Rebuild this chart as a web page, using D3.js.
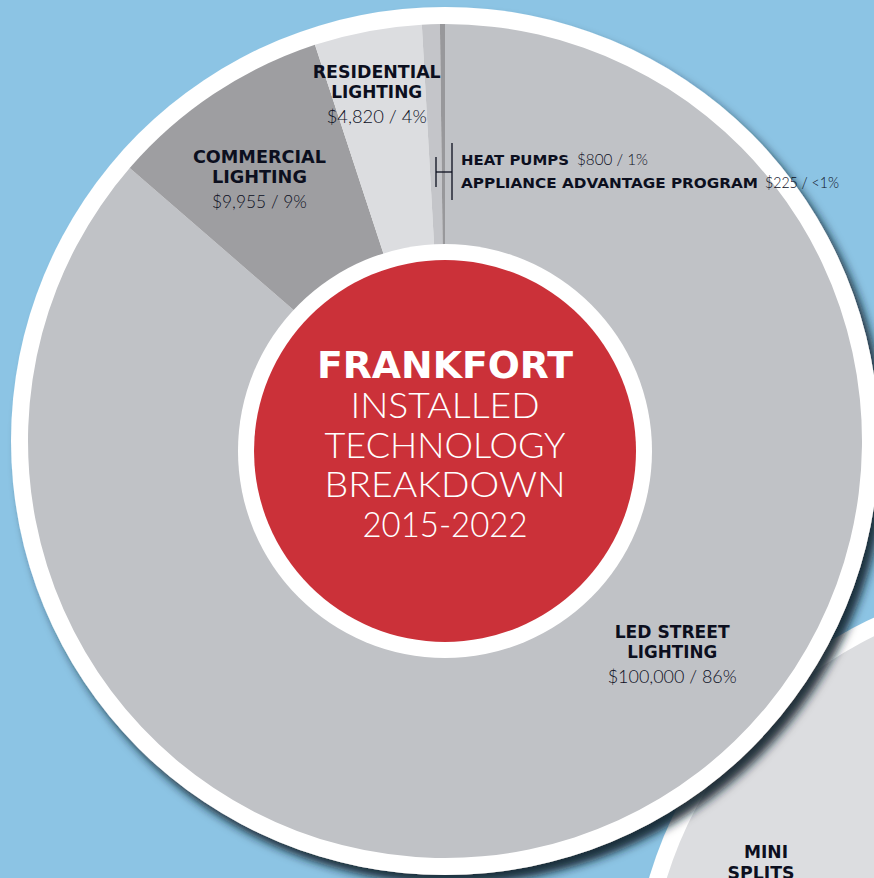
<!DOCTYPE html>
<head>
    <meta charset="utf-8">
    <title>Frankfort - Installed Technology Breakdown</title>
    <style>
        html, body { margin: 0; padding: 0; background: #8cc4e4; }
        svg { display: block; }
        .lbl { font-family: "DejaVu Sans", sans-serif; font-weight: bold; fill: #0c0f1e; }
        .val { font-family: Lato, "Open Sans", sans-serif; font-weight: 300; fill: #0c0f1e; }
    </style>
</head>
<body>
<svg width="874" height="878"></svg>

<script src="https://d3js.org/d3.v7.min.js"></script>
<script>

// slices, clockwise from 12 o'clock
var categories = ["LED STREET LIGHTING", "COMMERCIAL LIGHTING", "RESIDENTIAL LIGHTING", "HEAT PUMPS", "APPLIANCE ADVANTAGE PROGRAM"];
var amounts = [100000, 9955, 4820, 800, 225];
var shares = ["86%", "9%", "4%", "1%", "<1%"];
var sliceColors = ["#c0c2c6", "#9e9ea1", "#dcdde0", "#c4c5c9", "#98989b"];
var titleLines = ["FRANKFORT", "INSTALLED", "TECHNOLOGY", "BREAKDOWN", "2015-2022"];
var otherChart = ["MINI", "SPLITS"];

var svg = d3.select("svg"),
    width = +svg.attr("width"),
    height = +svg.attr("height");

var cx = 445, cy = 441, radius = 417, ring = 17;

var defs = svg.append("defs");
defs.append("filter").attr("id", "shadow")
    .attr("x", "-20%").attr("y", "-20%").attr("width", "140%").attr("height", "140%")
  .append("feDropShadow")
    .attr("dx", 7).attr("dy", 9).attr("stdDeviation", 5)
    .attr("flood-color", "#0b1b29").attr("flood-opacity", 0.9);

svg.append("rect").attr("width", width).attr("height", height).attr("fill", "#8cc4e4");

// neighbouring chart, mostly off the page
var mini = svg.append("g").attr("transform", "translate(1049,996)");
mini.append("circle").attr("r", 400 + ring).attr("fill", "#fff").attr("filter", "url(#shadow)");
mini.append("path")
    .attr("d", d3.arc().innerRadius(0).outerRadius(400)({startAngle: 0, endAngle: 2 * Math.PI}))
    .attr("fill", "#dcdde0");

// main chart
var g = svg.append("g").attr("transform", "translate(" + cx + "," + cy + ")");

g.append("circle").attr("r", radius + ring).attr("fill", "#fff").attr("filter", "url(#shadow)");

var pie = d3.pie().sort(null).value(function(d) { return d; });
var arcs = pie(amounts);
var arc = d3.arc().innerRadius(0).outerRadius(radius);

g.selectAll("path.slice")
    .data(arcs)
  .enter().append("path")
    .attr("class", "slice")
    .attr("d", arc)
    .attr("fill", function(d, i) { return sliceColors[i]; });

// hole and title disc (sits a little low)
var hole = svg.append("g").attr("transform", "translate(" + cx + "," + (cy + 10) + ")");
hole.append("circle").attr("r", 207).attr("fill", "#fff");
hole.append("circle").attr("r", 191).attr("fill", "#cb3139");

var title = svg.append("text").attr("text-anchor", "middle").attr("fill", "#fff");
var titleWidths = [256, 189, 241, 241, 165];
titleLines.forEach(function(t, i) {
  title.append("tspan")
      .attr("x", cx)
      .attr("y", 378 + i * 39.8)
      .attr("textLength", titleWidths[i])
      .attr("lengthAdjust", "spacingAndGlyphs")
      .style("font-family", i === 0 ? "'DejaVu Sans', sans-serif" : "Lato, 'Open Sans', sans-serif")
      .style("font-weight", i === 0 ? "bold" : 300)
      .style("font-size", i === 0 ? "38px" : "35px")
      .text(t);
});

function money(v) { return "$" + d3.format(",")(v); }

// stacked labels for the three big slices
function stacked(i, x, y, w1, w2, w3) {
  var words = categories[i].split(" ");
  var first = words.slice(0, words.length - 1).join(" "), last = words[words.length - 1];
  var t = svg.append("g").attr("text-anchor", "middle");
  t.append("text").attr("class", "lbl").attr("x", x).attr("y", y).style("font-size", "17px")
      .attr("textLength", w1).attr("lengthAdjust", "spacingAndGlyphs").text(first);
  t.append("text").attr("class", "lbl").attr("x", x).attr("y", y + 20).style("font-size", "17px")
      .attr("textLength", w2).attr("lengthAdjust", "spacingAndGlyphs").text(last);
  t.append("text").attr("class", "val").attr("x", x).attr("y", y + 45).style("font-size", "18px")
      .attr("textLength", w3).attr("lengthAdjust", "spacingAndGlyphs")
      .text(money(amounts[i]) + " / " + shares[i]);
}

// place big labels along their slice angles
function at(i, r, da) {
  var a = (arcs[i].startAngle + arcs[i].endAngle) / 2 + (da || 0);
  var p = d3.pointRadial(a, r);
  return [cx + p[0], cy + p[1]];
}

var pLed = at(0, 315, -0.377), pCom = at(1, 318, -0.036), pRes = at(2, 350, -0.01);
stacked(0, pLed[0], pLed[1] - 21, 115, 90, 129);
stacked(1, pCom[0], pCom[1] - 20, 133, 95, 95);
stacked(2, pRes[0], pRes[1] - 20, 128, 91, 100);

// the two thin slices share a bracket
var bx = 452;
svg.append("g").attr("stroke", "#0c0f1e").attr("stroke-width", 1.3).attr("fill", "none")
  .selectAll("line")
  .data([[bx, 143, bx, 200], [436, 157, 436, 187], [436, 172, bx, 172]])
  .enter().append("line")
    .attr("x1", function(d) { return d[0]; }).attr("y1", function(d) { return d[1]; })
    .attr("x2", function(d) { return d[2]; }).attr("y2", function(d) { return d[3]; });

var small = [{i: 3, y: 165, w: 108, vx: 577, vw: 71}, {i: 4, y: 188, w: 297, vx: 765, vw: 74}];
small.forEach(function(s) {
  svg.append("text").attr("class", "lbl").attr("x", 461).attr("y", s.y).style("font-size", "14px")
      .attr("textLength", s.w).attr("lengthAdjust", "spacingAndGlyphs").text(categories[s.i]);
  svg.append("text").attr("class", "val").attr("x", s.vx).attr("y", s.y).style("font-size", "15px")
      .attr("textLength", s.vw).attr("lengthAdjust", "spacingAndGlyphs")
      .text(money(amounts[s.i]) + " / " + shares[s.i]);
});

// label of the neighbouring chart
svg.append("text").attr("class", "lbl").attr("text-anchor", "middle").attr("x", 766).attr("y", 858)
    .style("font-size", "17px").attr("textLength", 44).attr("lengthAdjust", "spacingAndGlyphs").text(otherChart[0]);
svg.append("text").attr("class", "lbl").attr("text-anchor", "middle").attr("x", 761).attr("y", 879)
    .style("font-size", "17px").attr("textLength", 67).attr("lengthAdjust", "spacingAndGlyphs").text(otherChart[1]);

</script>
</body>
